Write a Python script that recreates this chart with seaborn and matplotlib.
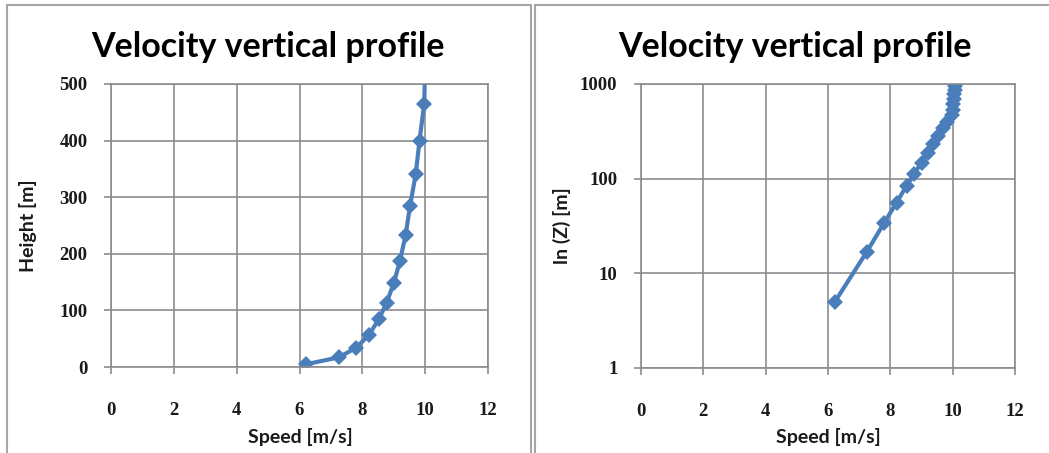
import matplotlib
matplotlib.use("Agg")
import matplotlib.pyplot as plt
from matplotlib.patches import Rectangle
from matplotlib.ticker import FixedLocator, FixedFormatter
import seaborn as sns
import pandas as pd

# Wind speed profile: speed [m/s] at each height [m]
speed = [6.22, 7.25, 7.80, 8.20, 8.52, 8.77, 9.00, 9.20, 9.38, 9.52,
         9.70, 9.82, 9.97, 10.00, 10.02, 10.04, 10.05, 10.06, 10.07]
height = [5, 17, 34, 56, 84, 113, 148, 188, 234, 285,
          341, 400, 465, 535, 610, 690, 775, 865, 950]

x_ticks = [0, 2, 4, 6, 8, 10, 12]
lin_ticks = [0, 100, 200, 300, 400, 500]
log_ticks = [1, 10, 100, 1000]

title_text = "Velocity vertical profile"
x_label = "Speed [m/s]"
lin_label = "Height [m]"
log_label = "ln (Z) [m]"

df = pd.DataFrame({"speed": speed, "height": height})

sns.set_theme(style="white")
plt.rcParams["font.family"] = ["Lato", "DejaVu Sans"]

W, H = 1049, 453
fig = plt.figure(figsize=(W / 100, H / 100), dpi=100)
fig.patch.set_facecolor("white")

line_color = "#4a7ebb"
grid_color = "#8c8c8c"
frame_color = "#a6a6a6"
tick_font = {"family": ["Liberation Serif", "DejaVu Serif"], "size": 13.5,
             "weight": "bold", "color": "#1a1a1a"}


def px(x0, y0, x1, y1):
    """Pixel box (top-left origin) -> figure-fraction [left, bottom, w, h]."""
    return [x0 / W, 1 - y1 / H, (x1 - x0) / W, (y1 - y0) / H]


# chart-area frames
for (x0, x1) in [(7, 531), (535, 1060)]:
    fig.patches.append(Rectangle((x0 / W, -0.05), (x1 - x0) / W, 1.05 - 5 / H,
                                 transform=fig.transFigure, fill=False,
                                 edgecolor=frame_color, linewidth=1.5))

ax1 = fig.add_axes(px(111, 84, 488, 367))
ax2 = fig.add_axes(px(641, 84, 1015, 368))


def style(ax):
    ax.set_facecolor("white")
    ax.grid(True, color=grid_color, linewidth=1.2)
    for s in ax.spines.values():
        s.set_color(grid_color)
        s.set_linewidth(1.2)
    ax.tick_params(axis="both", which="major", direction="out", length=5,
                   width=1.2, color=grid_color, left=True, bottom=True)
    ax.tick_params(axis="both", which="minor", left=False, bottom=False)
    ax.set_xlim(0, 12)
    ax.set_xticks(x_ticks)
    ax.set_xticklabels([str(t) for t in x_ticks], fontdict=tick_font)
    ax.tick_params(axis="x", pad=20)
    ax.tick_params(axis="y", pad=12)
    ax.set_xlabel("")
    ax.set_ylabel("")


sns.lineplot(data=df, x="speed", y="height", sort=False, estimator=None,
             marker="D", markersize=8.5, markeredgewidth=0, color=line_color,
             linewidth=3, ax=ax1)
style(ax1)
ax1.set_ylim(0, 500)
ax1.set_yticks(lin_ticks)
ax1.set_yticklabels([str(t) for t in lin_ticks], fontdict=tick_font)

sns.lineplot(data=df, x="speed", y="height", sort=False, estimator=None,
             marker="D", markersize=8.5, markeredgewidth=0, color=line_color,
             linewidth=3, ax=ax2)
ax2.set_yscale("log")
style(ax2)
ax2.set_ylim(1, 1000)
ax2.yaxis.set_major_locator(FixedLocator(log_ticks))
ax2.yaxis.set_major_formatter(FixedFormatter([str(t) for t in log_ticks]))
for lab in ax2.get_yticklabels():
    lab.set_fontfamily(tick_font["family"])
    lab.set_fontsize(tick_font["size"])
    lab.set_fontweight(tick_font["weight"])
    lab.set_color(tick_font["color"])
ax2.yaxis.set_minor_locator(FixedLocator([]))

# titles and axis labels
title_kw = dict(fontsize=24.5, fontweight="bold", color="black",
                ha="center", va="center")
fig.text(268 / W, 1 - 47 / H, title_text, **title_kw)
fig.text(795 / W, 1 - 47 / H, title_text, **title_kw)

lab_kw = dict(fontsize=14, fontweight="bold", color="#1a1a1a",
              ha="center", va="center")
fig.text(300 / W, 1 - 437 / H, x_label, **lab_kw)
fig.text(828 / W, 1 - 437 / H, x_label, **lab_kw)
fig.text(28 / W, 1 - 226 / H, lin_label, rotation=90, **lab_kw)
fig.text(562 / W, 1 - 226 / H, log_label, rotation=90, **lab_kw)

fig.savefig("out.png", dpi=100, facecolor="white")
